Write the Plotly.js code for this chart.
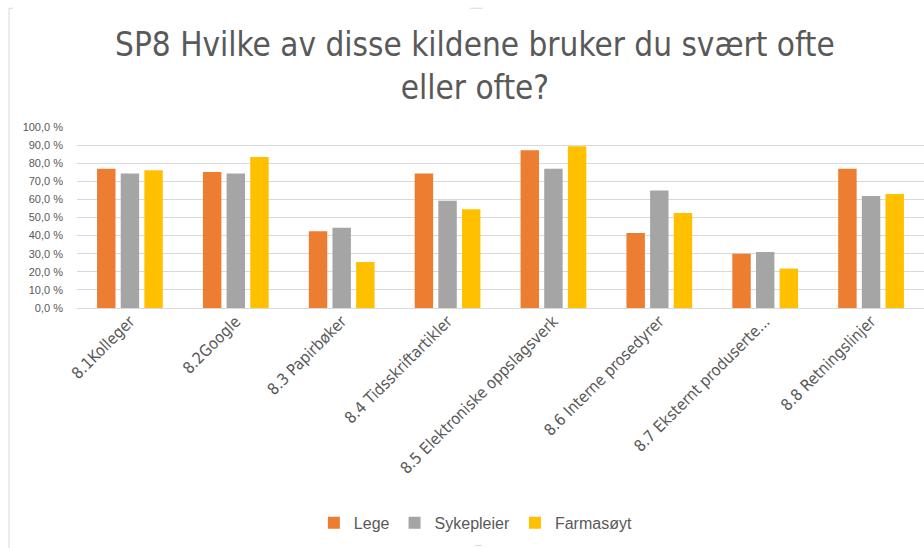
<!DOCTYPE html>
<html>
<head>
<meta charset="utf-8">
<script src="https://cdn.plot.ly/plotly-3.0.1.min.js"></script>
<style>
html,body{margin:0;padding:0;background:#fff;overflow:hidden;}
#chart{width:924px;height:548px;}
</style>
</head>
<body>
<div id="chart"></div>
<script>
const categories = [
  "8.1Kolleger",
  "8.2Google",
  "8.3 Papirbøker",
  "8.4 Tidsskriftartikler",
  "8.5 Elektroniske oppslagsverk",
  "8.6 Interne prosedyrer",
  "8.7 Eksternt produserte...",
  "8.8 Retningslinjer"
];
const lege       = [77.0, 75.1, 42.4, 74.3, 87.1, 41.4, 30.0, 77.0];
const sykepleier = [74.3, 74.3, 44.4, 59.3, 77.0, 64.9, 30.9, 61.9];
const farmasoyt  = [76.1, 83.4, 25.4, 54.5, 89.3, 52.5, 21.8, 63.0];
const seriesNames = ["Lege", "Sykepleier", "Farmasøyt"];
const yTicks = [0, 10, 20, 30, 40, 50, 60, 70, 80, 90, 100];
const yTickText = ["0,0 %", "10,0 %", "20,0 %", "30,0 %", "40,0 %", "50,0 %", "60,0 %", "70,0 %", "80,0 %", "90,0 %", "100,0 %"];

const NARROW = "Liberation Sans Narrow, Arial Narrow, DejaVu Sans Condensed, Liberation Sans, sans-serif";
const SANS = "Liberation Sans, Arial, sans-serif";
const GREY = "#595959";
const colors = ["#ED7D31", "#A5A5A5", "#FFC000"];
const data = [lege, sykepleier, farmasoyt].map((vals, i) => ({
  type: "bar",
  name: seriesNames[i],
  x: categories,
  y: vals,
  marker: {color: colors[i]},
  hoverinfo: "x+y+name"
}));

const frame = {color: "#d9d9d9", width: 1};
const layout = {
  width: 924,
  height: 548,
  margin: {l: 77, r: 0, t: 127, b: 240, pad: 0},
  paper_bgcolor: "#ffffff",
  plot_bgcolor: "#ffffff",
  font: {family: SANS, color: GREY},
  title: {
    text: "SP8 Hvilke av disse kildene bruker du svært ofte<br>eller ofte?",
    font: {family: NARROW, size: 33, color: GREY},
    x: 0.514, xanchor: "center", xref: "container",
    y: 0.897, yanchor: "top", yref: "container"
  },
  barmode: "group",
  bargap: 0.33,
  bargroupgap: 0.22,
  xaxis: {
    type: "category",
    tickangle: -45,
    tickfont: {family: NARROW, size: 16, color: GREY},
    showgrid: false,
    showline: false,
    ticks: "",
    automargin: false
  },
  yaxis: {
    range: [0, 100],
    tickmode: "array",
    tickvals: yTicks,
    ticktext: yTickText,
    tickfont: {family: SANS, size: 11, color: GREY},
    ticklabelstandoff: 13,
    showgrid: true,
    gridcolor: "#d9d9d9",
    gridwidth: 1,
    zeroline: true,
    zerolinecolor: "#d9d9d9",
    zerolinewidth: 1,
    showline: false,
    ticks: "",
    automargin: false
  },
  legend: {
    orientation: "h",
    x: 0.515, xanchor: "center", xref: "container",
    y: 0.015, yanchor: "bottom", yref: "container",
    font: {family: SANS, size: 16, color: GREY},
    itemwidth: 30,
    traceorder: "normal"
  },
  shapes: [
    {type: "line", xref: "paper", yref: "paper", x0: -0.0803, x1: -0.0803, y0: -1.33, y1: 1.656, line: frame},
    {type: "line", xref: "paper", yref: "paper", x0: -0.0803, x1: -0.0756, y0: 1.656, y1: 1.656, line: frame},
    {type: "line", xref: "paper", yref: "paper", x0: 0.464, x1: 0.479, y0: 1.656, y1: 1.656, line: frame},
    {type: "line", xref: "paper", yref: "paper", x0: 0.470, x1: 0.478, y0: -1.312, y1: -1.312, line: frame}
  ]
};

Plotly.newPlot("chart", data, layout, {displayModeBar: false, staticPlot: true});
</script>
</body>
</html>
